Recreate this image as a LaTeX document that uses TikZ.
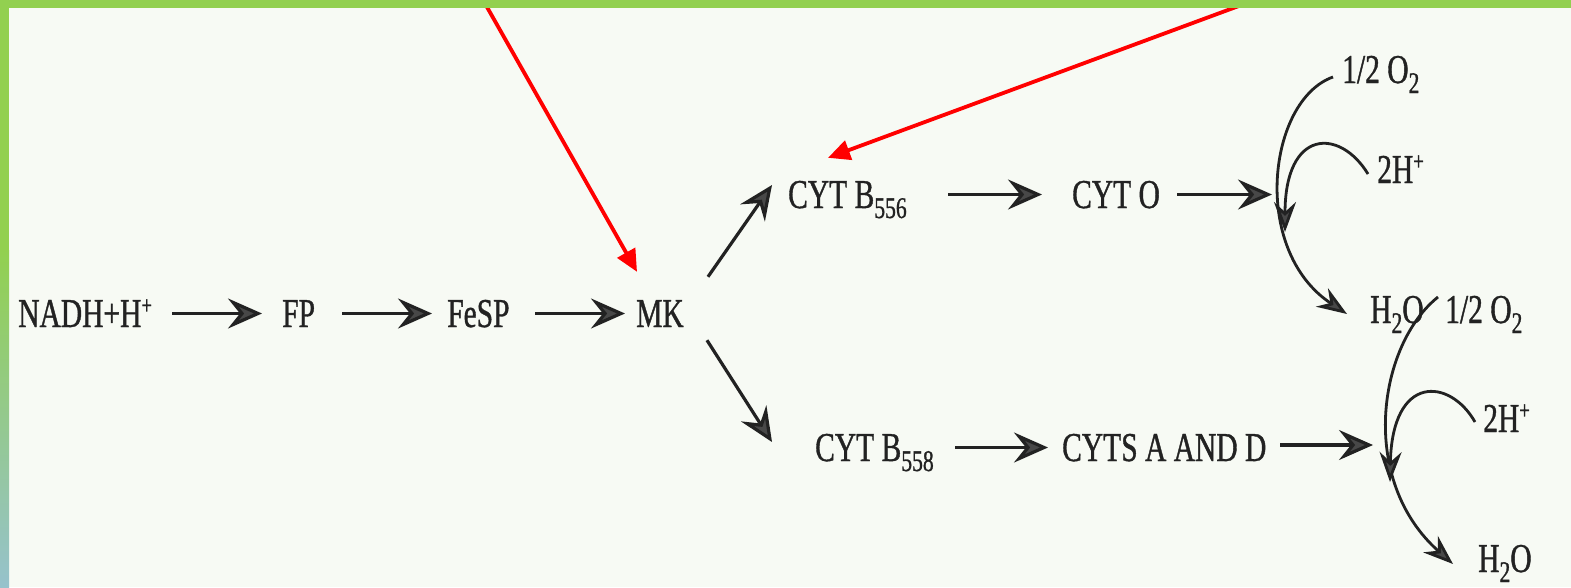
\documentclass[tikz,border=0pt]{standalone}
\usepackage{fontspec}
\setmainfont{Liberation Serif}[FakeStretch=0.72,FakeBold=0.9]
\usetikzlibrary{arrows.meta}
\definecolor{bg}{HTML}{F7FAF4}
\definecolor{barg}{HTML}{92D050}
\definecolor{barb}{HTML}{96C2CC}
\definecolor{ink}{HTML}{222222}
\definecolor{headf}{HTML}{484848}
\newcommand{\lsub}[1]{\raisebox{-10pt}{\fontsize{30}{30}\selectfont #1}}
\newcommand{\lsup}[1]{\raisebox{13pt}{\fontsize{26}{26}\selectfont #1}}
\begin{document}
\begin{tikzpicture}[x=1pt,y=-1pt,
 lab/.style={inner sep=0pt, anchor=base west, text height=27pt, text depth=0pt, font=\fontsize{41}{44}\selectfont, text=ink},
 arr/.style={draw=ink, line width=3.2pt, -{Stealth[length=34pt,width=30pt,inset=12pt,fill=headf]}},
 carr/.style={draw=ink, line width=2.8pt, -{Stealth[length=30pt,width=22pt,inset=10pt,fill=headf]}},
 redarr/.style={draw=red, line width=3.8pt, -{Triangle[length=22pt,width=20pt]}}]
\useasboundingbox (0,0) rectangle (1571,587);
\fill[bg] (0,0) rectangle (1571,587);

% labels
\node[lab] (nadh) at (18,327) {NADH+H\lsup{+}};
\node[lab] (fp) at (282,327) {FP};
\node[lab] (fesp) at (447,327) {FeSP};
\node[lab] (mk) at (636,327) {MK};
\node[lab] (b556) at (788,208) {CYT B\lsub{556}};
\node[lab] (cyto) at (1072,208) {CYT O};
\node[lab] (b558) at (815,461) {CYT B\lsub{558}};
\node[lab] (cytsad) at (1062,461) {CYTS A AND D};
\node[lab] (o2a) at (1342,83) {1/2 O\lsub{2}};
\node[lab] (hpa) at (1377,183) {2H\lsup{+}};
\node[lab] (h2oa) at (1370,323) {H\lsub{2}O};
\node[lab] (o2b) at (1445,323) {1/2 O\lsub{2}};
\node[lab] (hpb) at (1483,432) {2H\lsup{+}};
\node[lab] (h2ob) at (1478,572) {H\lsub{2}O};

\coordinate (j1) at (1272,194.5);
\coordinate (j2) at (1373,445);
\coordinate (m1) at (1285,232);
\coordinate (m2) at (1390,482);
\coordinate (r1) at (483,0);
\coordinate (r2) at (1255,0);

% straight arrows
\draw[arr] (172,0 |- nadh.east) -- (262,0 |- fp.west);
\draw[arr] (342,0 |- fp.east) -- (432,0 |- fesp.west);
\draw[arr] (535,0 |- fesp.east) -- (625,0 |- mk.west);
\draw[arr] ([xshift=24pt,yshift=23pt]mk.north east) -- ([xshift=-16pt,yshift=9.5pt]b556.west);
\draw[arr] ([xshift=23pt,yshift=-13pt]mk.south east) -- ([xshift=-43pt,yshift=5.5pt]b558.west);
\draw[arr] (948,0 |- b556.east) -- (1042,0 |- cyto.west);
\draw[arr] (1177,0 |- j1) -- (j1);
\draw[arr] (955,0 |- b558.east) -- (1048,0 |- cytsad.west);
\draw[arr] (1280,0 |- j2) -- (j2);

% curved arrows
\draw[carr] ([xshift=-9pt,yshift=-7.5pt]o2a.west) .. controls (1268,100) and (1250,250) .. ([xshift=-23pt,yshift=-4.5pt]h2oa.west);
\draw[carr] ([xshift=-9pt,yshift=-4.5pt]hpa.west) .. controls (1340,128) and (1285,128) .. (m1);
\draw[carr] ([xshift=-7pt,yshift=12.5pt]o2b.west) .. controls (1378,345) and (1358,480) .. ([xshift=-25pt,yshift=-5.5pt]h2ob.west);
\draw[carr] ([xshift=-8pt,yshift=-3.5pt]hpb.west) .. controls (1450,378) and (1392,373) .. (m2);

% red pointers
\draw[redarr] (r1) -- ([xshift=1pt,yshift=28pt]mk.north west);
\draw[redarr] (r2) -- ([xshift=40pt,yshift=23pt]b556.north west);

% frame bars
\fill[barg] (0,0) rectangle (1571,8);
\fill[barg] (0,0) rectangle (9,250);
\shade[top color=barg, bottom color=barb] (0,250) rectangle (9,587);
\end{tikzpicture}
\end{document}
